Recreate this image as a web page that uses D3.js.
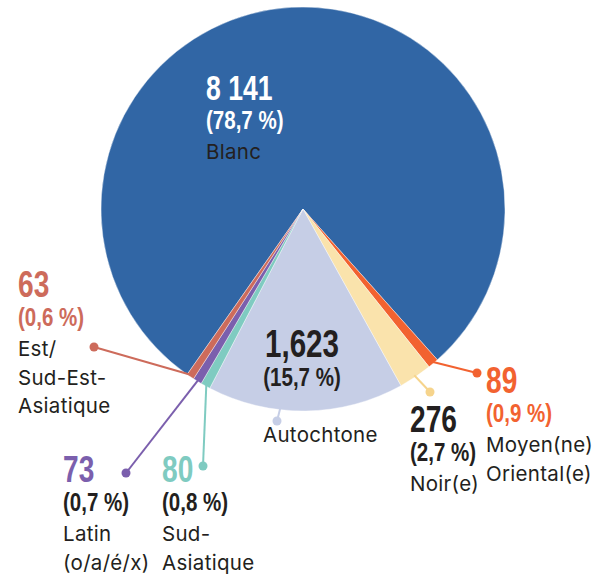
<!DOCTYPE html>
<html>
<head>
<meta charset="utf-8">
<script src="https://cdn.jsdelivr.net/npm/d3@7"></script>
<style>
  html, body { margin: 0; padding: 0; background: #fff; }
  svg { display: block; }
  .num { font-family: "Liberation Sans", Arial, sans-serif; font-weight: bold; }
  .lab { font-family: Inter, "Noto Sans", sans-serif; font-size: 20.5px; letter-spacing: 0.3px; fill: #231f20; }
</style>
</head>
<body>
<svg class="chart" width="593" height="575"></svg>
<script>
// data, in drawing order (clockwise)
const groups = ["Blanc", "Moyen(ne) Oriental(e)", "Noir(e)", "Autochtone", "Sud-Asiatique", "Latin (o/a/é/x)", "Est/Sud-Est-Asiatique"],
      counts = [8141, 89, 276, 1623, 80, 73, 63],
      countLabels = ["8 141", "89", "276", "1,623", "80", "73", "63"],
      pctLabels = ["(78,7 %)", "(0,9 %)", "(2,7 %)", "(15,7 %)", "(0,8 %)", "(0,7 %)", "(0,6 %)"],
      nameLines = [["Blanc"], ["Moyen(ne)", "Oriental(e)"], ["Noir(e)"], ["Autochtone"], ["Sud-", "Asiatique"], ["Latin", "(o/a/é/x)"], ["Est/", "Sud-Est-", "Asiatique"]]

const colors = ["#3166a5", "#f26230", "#fae3ac", "#c6cee6", "#7fcbc1", "#7b5fad", "#cd6b5b"],
      numColors = ["#ffffff", "#f26230", "#231f20", "#231f20", "#7fcbc1", "#7b5fad", "#cd6b5b"],
      pctColors = ["#ffffff", "#f26230", "#231f20", "#231f20", "#231f20", "#231f20", "#cd6b5b"],
      nameColors = ["#ffffff", "#231f20", "#231f20", "#231f20", "#231f20", "#231f20", "#231f20"],
      lineColors = [null, "#f26230", "#f6d48c", "#c6cee6", "#7fcbc1", "#7b5fad", "#cd6b5b"]

// label layout: text anchor point (x, top baseline), leader dot, leader start angle (deg)
const layout = [
  { x: 206, y: 100, num: 35, pct: 26, dot: null, angle: null, anchor: "start" },
  { x: 486, y: 393, num: 37, pct: 26, dot: [477, 373], angle: 139.8, anchor: "start" },
  { x: 410, y: 432, num: 37, pct: 26, dot: [430, 392], angle: 146.2, anchor: "start" },
  { x: 302, y: 357, num: 39, pct: 26, dot: [277, 421], angle: 186.5, anchor: "middle", nameX: 263, nameY: 442 },
  { x: 162, y: 482, num: 37, pct: 26, dot: [203, 466], angle: 208.9, anchor: "start" },
  { x: 63, y: 482, num: 37, pct: 26, dot: [126, 473], angle: 211.5, anchor: "start" },
  { x: 18, y: 297, num: 37, pct: 26, dot: [94, 347], angle: 213.9, anchor: "start" }
]

const cx = 303, cy = 209, radius = 202,
      offset = -145 * Math.PI / 180,
      squeeze = 0.76, pctSqueeze = 0.79

const svg = d3.select(".chart")

const pie = d3.pie().sort(null).value(d => d)
  .startAngle(offset).endAngle(offset + 2 * Math.PI)

const arc = d3.arc().innerRadius(0).outerRadius(radius)

const g = svg.append("g")
  .attr("transform", "translate(" + cx + "," + cy + ")")

g.selectAll("path.slice")
  .data(pie(counts))
  .join("path")
    .attr("class", "slice")
    .attr("d", arc)
    .attr("fill", (d, i) => colors[i])
    .attr("stroke", "#fff")
    .attr("stroke-width", 0.4)

// leader lines
layout.forEach(function (l, i) {
  if (!l.dot) return
  var a = l.angle * Math.PI / 180,
      r = radius - 2
  var x0 = cx + r * Math.sin(a),
      y0 = cy - r * Math.cos(a)
  svg.append("line")
    .attr("x1", x0).attr("y1", y0)
    .attr("x2", l.dot[0]).attr("y2", l.dot[1])
    .attr("stroke", lineColors[i])
    .attr("stroke-width", 2)
  svg.append("circle")
    .attr("cx", l.dot[0]).attr("cy", l.dot[1])
    .attr("r", 4.5)
    .attr("fill", lineColors[i])
})

// labels
layout.forEach(function (l, i) {
  var t = svg.append("g")
  t.append("text")
    .attr("class", "num")
    .attr("transform", "translate(" + l.x + "," + l.y + ") scale(" + squeeze + ",1)")
    .attr("text-anchor", l.anchor)
    .attr("font-size", l.num)
    .attr("fill", numColors[i])
    .text(countLabels[i])
  t.append("text")
    .attr("class", "num")
    .attr("transform", "translate(" + l.x + "," + (l.y + 29) + ") scale(" + pctSqueeze + ",1)")
    .attr("text-anchor", l.anchor)
    .attr("font-size", l.pct)
    .attr("fill", pctColors[i])
    .text(pctLabels[i])
  var nx = l.nameX != null ? l.nameX : l.x,
      ny = l.nameY != null ? l.nameY : l.y + 59
  nameLines[i].forEach(function (s, k) {
    t.append("text")
      .attr("class", "lab")
      .attr("x", nx).attr("y", ny + k * 28.5)
      .attr("fill", nameColors[i])
      .text(s)
  })
})
</script>
</body>
</html>
